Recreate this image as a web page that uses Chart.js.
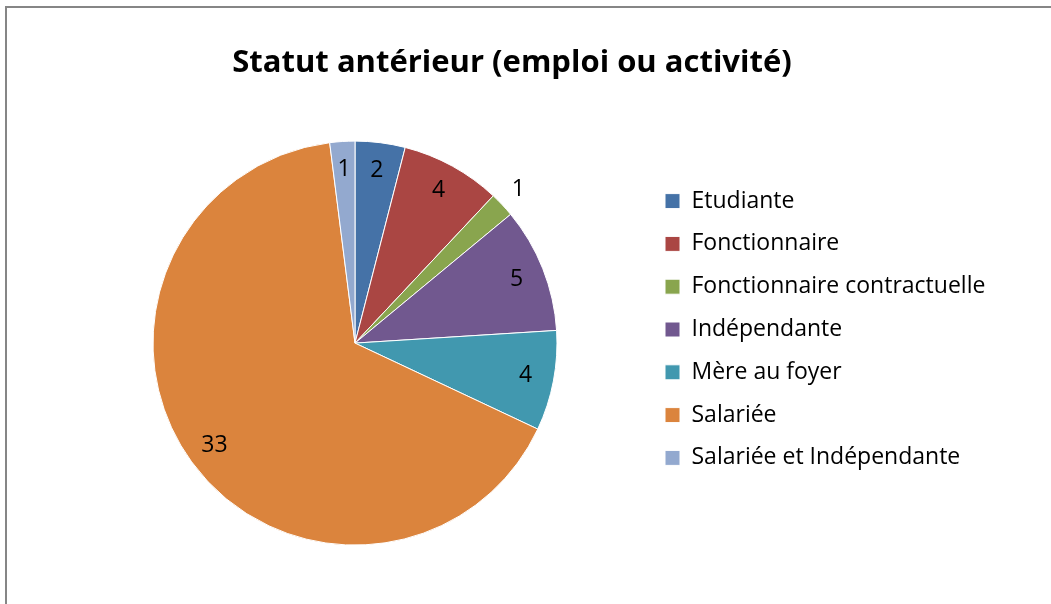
<!DOCTYPE html>
<html lang="fr">
<head>
    <meta charset="UTF-8">
    <title>Statut antérieur (emploi ou activité)</title>
    <script src="https://cdn.jsdelivr.net/npm/chart.js"></script>
    <style>
        html, body {
            margin: 0;
            padding: 0;
            background: #ffffff;
            overflow: hidden;
        }
        .frame {
            position: absolute;
            left: 5px;
            top: 6px;
            width: 1200px;
            height: 800px;
            border-left: 2px solid #868686;
            border-top: 2px solid #868686;
        }
        .chart-box {
            position: absolute;
            left: 0;
            top: 0;
            width: 1051px;
            height: 604px;
        }
    </style>
</head>
<body>
    <div class="frame"></div>
    <div class="chart-box">
        <canvas id="pieChart"></canvas>
    </div>

    <script>
        // Données
        const categories = ['Etudiante', 'Fonctionnaire', 'Fonctionnaire contractuelle', 'Indépendante', 'Mère au foyer', 'Salariée', 'Salariée et Indépendante'];
        const effectifs = [2, 4, 1, 5, 4, 33, 1];
        const couleurs = ['#4572A7', '#AA4643', '#89A54E', '#71588F', '#4198AF', '#DB843D', '#93A9CF'];

        // Mise en page : la légende commence vers x=645, le camembert est centré vers x=355, le titre vers x=512
        const legendeGauche = 645.2;
        const centreCamembert = 355;
        const centreTitre = 512;
        const legPad = 19.8, legBox = 15, legFont = 23;

        // largeur naturelle de la légende (même calcul que Chart.js : padding + boîte + fontSize/2 + texte + 10)
        const mctx = document.createElement('canvas').getContext('2d');
        mctx.font = legFont + 'px "Open Sans"';
        const texteMax = Math.max(...categories.map(c => mctx.measureText(c).width));
        const largeurLegende = legPad + legBox + legFont / 2 + texteMax + 10;
        const padDroite = 1051 - legendeGauche - largeurLegende;
        const padGauche = padDroite - (1051 - 2 * centreTitre);
        const espaceGauche = 2 * centreCamembert - legendeGauche - padGauche;

        // Étiquettes de valeurs posées sur les parts (la petite part verte a son étiquette dehors)
        const etiquettesPlugin = {
            id: 'etiquettes',
            afterDatasetsDraw(chart, args, opts) {
                const ctx = chart.ctx;
                const meta = chart.getDatasetMeta(0);
                ctx.save();
                ctx.font = opts.font;
                ctx.fillStyle = '#000';
                ctx.textAlign = 'center';
                ctx.textBaseline = 'middle';
                meta.data.forEach((arc, i) => {
                    const p = arc.getProps(['x', 'y', 'startAngle', 'endAngle', 'outerRadius'], true);
                    const mid = (p.startAngle + p.endAngle) / 2;
                    const k = opts.dehors.includes(i) ? 1.11 : 0.86;
                    ctx.fillText(String(effectifs[i]), p.x + Math.cos(mid) * p.outerRadius * k, p.y + Math.sin(mid) * p.outerRadius * k);
                });
                ctx.restore();
            }
        };

        new Chart(document.getElementById('pieChart'), {
            type: 'pie',
            data: {
                labels: categories,
                datasets: [{
                    data: effectifs,
                    backgroundColor: couleurs,
                    borderColor: '#ffffff',
                    borderWidth: 1,
                    radius: 202
                }]
            },
            plugins: [etiquettesPlugin],
            options: {
                responsive: true,
                maintainAspectRatio: false,
                animation: false,
                layout: {
                    padding: { left: padGauche, right: padDroite, top: 0, bottom: 0 }
                },
                plugins: {
                    title: {
                        display: true,
                        text: 'Statut antérieur (emploi ou activité)',
                        color: '#000',
                        font: { family: 'Open Sans', size: 31, weight: 'bold', lineHeight: 1.2 },
                        padding: { top: 45, bottom: 0 }
                    },
                    // bloc vide à gauche, sert seulement à décaler le camembert
                    subtitle: {
                        display: true,
                        position: 'left',
                        text: '',
                        font: { size: 10, lineHeight: 1 },
                        padding: { top: espaceGauche - 10, bottom: 0 }
                    },
                    legend: {
                        position: 'right',
                        maxWidth: 600,
                        title: {
                            display: true,
                            text: '',
                            font: { size: 10, lineHeight: 1 },
                            padding: { top: 45, bottom: 0 }
                        },
                        labels: {
                            color: '#000',
                            font: { family: 'Open Sans', size: legFont },
                            boxWidth: legBox,
                            boxHeight: legBox,
                            padding: legPad
                        }
                    },
                    tooltip: { enabled: false },
                    etiquettes: {
                        font: '23px "Open Sans"',
                        dehors: [2]
                    }
                }
            }
        });
    </script>
</body>
</html>
